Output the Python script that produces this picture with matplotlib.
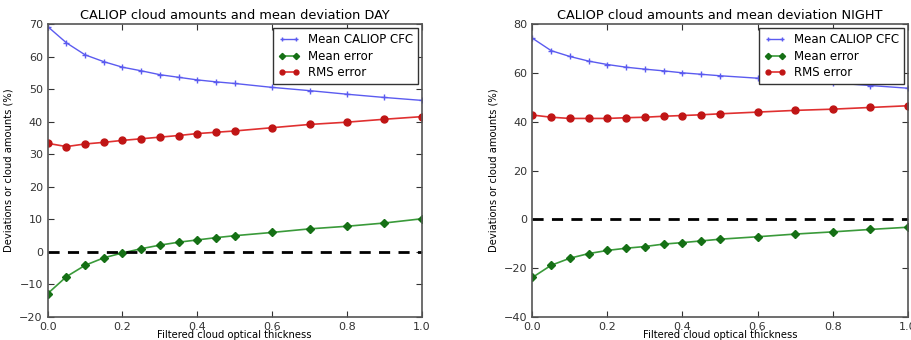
import matplotlib
matplotlib.use('Agg')
import matplotlib.pyplot as plt

tau = [0.0, 0.05, 0.1, 0.15, 0.2, 0.25, 0.3, 0.35, 0.4, 0.45, 0.5, 0.6, 0.7, 0.8, 0.9, 1.0]

# DAY
cfc_day = [69.3, 64.3, 60.6, 58.5, 56.8, 55.7, 54.5, 53.7, 52.9, 52.3, 51.8, 50.6, 49.6, 48.5, 47.5, 46.6]
bias_day = [-12.8, -7.6, -4.1, -1.8, -0.3, 1.0, 2.1, 3.0, 3.7, 4.4, 5.0, 6.0, 7.1, 7.9, 8.9, 10.2]
rms_day = [33.4, 32.4, 33.2, 33.7, 34.3, 34.8, 35.3, 35.8, 36.4, 36.8, 37.2, 38.2, 39.2, 39.9, 40.8, 41.6]

# NIGHT
cfc_night = [74.3, 69.2, 66.8, 64.9, 63.5, 62.4, 61.6, 60.9, 60.1, 59.5, 58.9, 57.9, 57.0, 56.0, 54.9, 53.8]
bias_night = [-23.8, -18.8, -15.9, -14.0, -12.7, -11.8, -11.1, -10.1, -9.5, -8.8, -8.1, -7.1, -6.0, -5.1, -4.1, -3.2]
rms_night = [42.8, 41.9, 41.4, 41.4, 41.4, 41.7, 41.9, 42.3, 42.6, 42.9, 43.3, 44.0, 44.7, 45.2, 45.9, 46.6]

titles = ['CALIOP cloud amounts and mean deviation DAY', 'CALIOP cloud amounts and mean deviation NIGHT']
ylims = [(-20, 70), (-40, 80)]
yticks = [range(-20, 71, 10), range(-40, 81, 20)]

fig = plt.figure(figsize=(9.12, 3.4), dpi=100)
ax1 = fig.add_axes([0.0523, 0.0676, 0.4101, 0.861])
ax2 = fig.add_axes([0.5837, 0.0676, 0.4116, 0.861])

data = [(cfc_day, bias_day, rms_day), (cfc_night, bias_night, rms_night)]
for ax, (cfc, bias, rms), title, yl, yt in zip([ax1, ax2], data, titles, ylims, yticks):
    ax.plot(tau, cfc, color='#5b5bf0', marker='+', ms=5, lw=1, label='Mean CALIOP CFC')
    ax.plot(tau, bias, color='#3a9a3a', marker='D', ms=4.5, mfc='#157015', mec='#157015', lw=1.2, label='Mean error')
    ax.plot(tau, rms, color='#e03030', marker='o', ms=5, mfc='#c01515', mec='#c01515', lw=1.2, label='RMS error')
    ax.axhline(0, color='black', ls='--', lw=2, dashes=(4, 3))
    ax.set_xlim(0, 1)
    ax.set_ylim(*yl)
    ax.set_yticks(list(yt))
    ax.set_title(title, fontsize=9.3, pad=4)
    ax.set_xlabel('Filtered cloud optical thickness', fontsize=7.2, labelpad=-1)
    ax.set_ylabel('Deviations or cloud amounts (%)', fontsize=7.2, labelpad=4)
    ax.tick_params(direction='in', top=True, right=True, labelsize=8, length=4, colors='#333333')
    for s in ax.spines.values():
        s.set_color('#555555')
        s.set_linewidth(1.2)
    leg = ax.legend(loc='upper right', numpoints=2, fontsize=8.5, fancybox=False, framealpha=1,
                    edgecolor='#333333', borderaxespad=0.35, handlelength=1.8, markerscale=0.7,
                    labelspacing=0.3, borderpad=0.4, handletextpad=0.7)
    leg.get_frame().set_linewidth(1)

fig.savefig('out.png', dpi=100)
